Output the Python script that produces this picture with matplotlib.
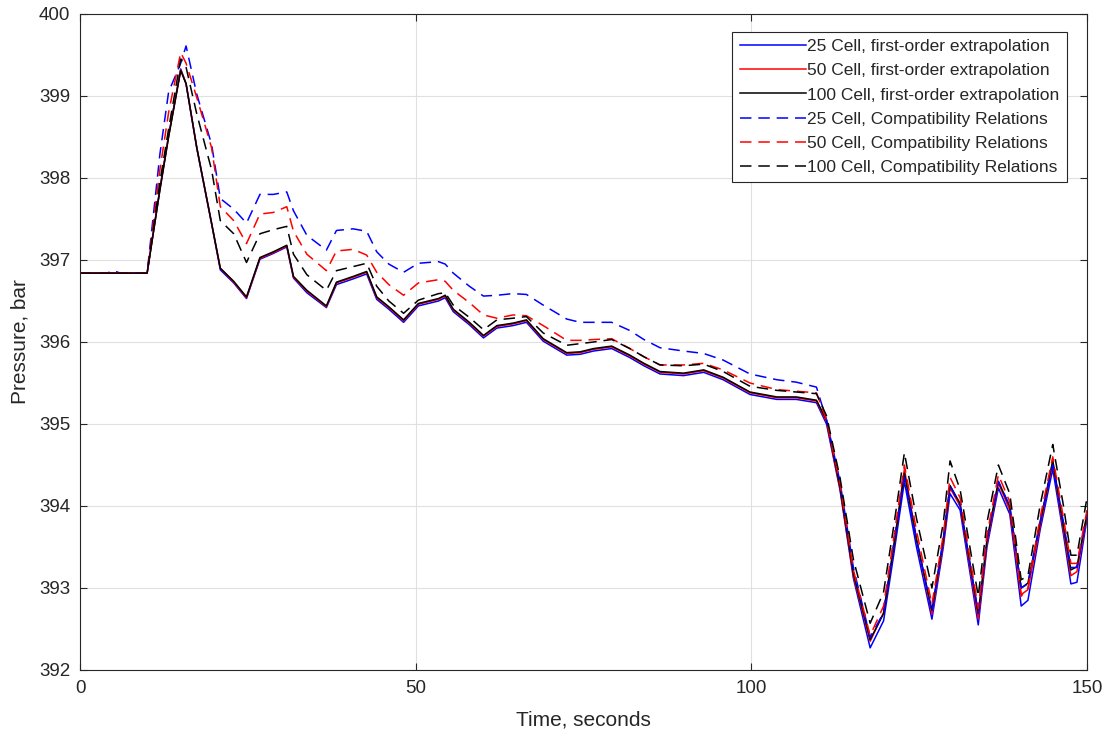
import matplotlib
matplotlib.use("Agg")
import matplotlib.pyplot as plt

plt.rcParams['font.family'] = ['Liberation Sans', 'DejaVu Sans']

t = [0, 4, 5, 6, 10, 11.9, 13.2, 15, 15.8, 17.4, 19.6, 20.9, 22.9, 24.8, 26.8, 28.8, 30.8, 31.8,
     33.8, 36.7, 38.2, 40.7, 42.7, 44.2, 46, 48.2, 50.4, 53.4, 54.4, 55.6, 58, 60.1, 62.1, 64.5,
     66.5, 69, 72.5, 74.5, 76.5, 79.2, 81.9, 84, 86.4, 89.9, 92.9, 95.8, 99.8, 103.8, 106.7,
     109.7, 111.2, 113.2, 115.2, 117.7, 119.7, 121.2, 122.8, 124.6, 126.9, 128.6, 129.6, 131.1,
     133.8, 135.1, 136.8, 138.5, 140.2, 141.2, 143, 144.9, 146.5, 147.6, 148.5, 150]

blue_first = [396.84, 396.84, 396.84, 396.84, 396.84, 397.87, 398.52, 399.33, 399.15, 398.36, 397.44,
              396.88, 396.72, 396.53, 397.01, 397.08, 397.16, 396.78, 396.6, 396.42, 396.7, 396.77,
              396.83, 396.52, 396.4, 396.24, 396.44, 396.5, 396.54, 396.37, 396.21, 396.05, 396.17,
              396.2, 396.24, 396.01, 395.84, 395.85, 395.89, 395.92, 395.81, 395.71, 395.61, 395.59,
              395.63, 395.54, 395.36, 395.3, 395.3, 395.26, 395.0, 394.2, 393.12, 392.27, 392.6,
              393.4, 394.3, 393.5, 392.62, 393.5, 394.15, 393.95, 392.55, 393.5, 394.22, 393.9,
              392.78, 392.85, 393.7, 394.45, 393.65, 393.05, 393.07, 393.85]

red_first = [396.84, 396.84, 396.84, 396.84, 396.84, 397.86, 398.51, 399.32, 399.15, 398.37, 397.45,
             396.9, 396.73, 396.54, 397.02, 397.09, 397.17, 396.79, 396.62, 396.43, 396.72, 396.79,
             396.85, 396.54, 396.42, 396.26, 396.46, 396.52, 396.56, 396.39, 396.23, 396.07, 396.19,
             396.22, 396.26, 396.03, 395.86, 395.87, 395.91, 395.94, 395.83, 395.73, 395.63, 395.61,
             395.65, 395.56, 395.38, 395.32, 395.32, 395.28, 395.03, 394.22, 393.15, 392.35, 392.7,
             393.5, 394.45, 393.6, 392.68, 393.55, 394.22, 394.0, 392.62, 393.55, 394.28, 393.95,
             392.92, 392.98, 393.75, 394.55, 393.7, 393.15, 393.2, 393.88]

black_first = [396.84, 396.84, 396.84, 396.84, 396.84, 397.85, 398.5, 399.31, 399.15, 398.37, 397.45,
               396.9, 396.74, 396.55, 397.03, 397.1, 397.18, 396.8, 396.63, 396.44, 396.73, 396.8,
               396.86, 396.55, 396.43, 396.27, 396.47, 396.53, 396.57, 396.4, 396.24, 396.08, 396.2,
               396.23, 396.27, 396.04, 395.87, 395.88, 395.92, 395.95, 395.84, 395.74, 395.64, 395.62,
               395.66, 395.57, 395.39, 395.33, 395.33, 395.29, 395.05, 394.24, 393.18, 392.37, 392.69,
               393.5, 394.4, 393.59, 392.73, 393.59, 394.25, 394.03, 392.69, 393.59, 394.3, 393.99,
               393.0, 393.06, 393.79, 394.55, 393.75, 393.22, 393.26, 393.91]

blue_compat = [396.84, 396.84, 396.87, 396.84, 396.84, 398.29, 399.05, 399.4, 399.61, 399.02, 398.41,
               397.75, 397.62, 397.45, 397.8, 397.8, 397.83, 397.6, 397.3, 397.12, 397.36, 397.38,
               397.35, 397.1, 396.95, 396.85, 396.96, 396.98, 396.95, 396.84, 396.68, 396.56, 396.57,
               396.59, 396.58, 396.45, 396.28, 396.24, 396.24, 396.24, 396.14, 396.03, 395.93, 395.89,
               395.86, 395.78, 395.61, 395.54, 395.51, 395.45, 395.05, 394.3, 393.25, 392.4, 392.7,
               393.55, 394.35, 393.6, 392.7, 393.6, 394.25, 394.0, 392.7, 393.6, 394.3, 394.0,
               393.0, 393.05, 393.8, 394.5, 393.8, 393.25, 393.25, 393.9]

red_compat = [396.84, 396.84, 396.84, 396.84, 396.84, 398.1, 398.8, 399.53, 399.4, 398.98, 398.37,
              397.65, 397.48, 397.2, 397.56, 397.58, 397.65, 397.35, 397.07, 396.87, 397.11, 397.13,
              397.06, 396.85, 396.7, 396.57, 396.72, 396.76, 396.74, 396.63, 396.48, 396.33, 396.29,
              396.33, 396.32, 396.2, 396.02, 396.02, 396.03, 396.04, 395.92, 395.82, 395.72, 395.72,
              395.74, 395.66, 395.5, 395.42, 395.4, 395.38, 395.05, 394.28, 393.22, 392.42, 392.78,
              393.6, 394.5, 393.7, 392.8, 393.65, 394.35, 394.1, 392.75, 393.65, 394.38, 394.05,
              392.9, 393.0, 393.85, 394.6, 393.85, 393.3, 393.3, 393.95]

black_compat = [396.84, 396.84, 396.84, 396.84, 396.84, 397.95, 398.6, 399.45, 399.35, 398.78, 398.1,
                397.48, 397.32, 396.97, 397.32, 397.37, 397.41, 397.07, 396.82, 396.63, 396.87, 396.92,
                396.96, 396.68, 396.5, 396.35, 396.51, 396.59, 396.6, 396.45, 396.3, 396.15, 396.27,
                396.29, 396.31, 396.11, 395.96, 395.98, 396.0, 396.03, 395.92, 395.82, 395.72, 395.71,
                395.73, 395.64, 395.46, 395.41, 395.39, 395.37, 395.1, 394.35, 393.35, 392.57, 392.95,
                393.75, 394.65, 393.85, 393.0, 393.8, 394.55, 394.2, 392.9, 393.8, 394.5, 394.15,
                393.1, 393.15, 394.0, 394.75, 394.0, 393.4, 393.4, 394.1]

labels = ["25 Cell, first-order extrapolation",
          "50 Cell, first-order extrapolation",
          "100 Cell, first-order extrapolation",
          "25 Cell, Compatibility Relations",
          "50 Cell, Compatibility Relations",
          "100 Cell, Compatibility Relations"]
series = [blue_first, red_first, black_first, blue_compat, red_compat, black_compat]
colors = ["#0000ff", "#ff0000", "#000000", "#0000ff", "#ff0000", "#000000"]
styles = ["-", "-", "-", "--", "--", "--"]

fig = plt.figure(figsize=(11.07, 7.36), dpi=100)
ax = fig.add_axes([80/1107, 66/736, 1007/1107, 656/736])

for y, c, s, lab in zip(series, colors, styles, labels):
    line, = ax.plot(t, y, color=c, linestyle=s, linewidth=1.1, label=lab)
    if s == "--":
        line.set_dashes((7.5, 4.5))

ax.set_xlim(0, 150)
ax.set_ylim(392, 400)
ax.set_xticks([0, 50, 100, 150])
ax.set_yticks(range(392, 401))
ax.grid(True, color="#e0e0e0", linewidth=0.8)
ax.set_axisbelow(True)
for sp in ax.spines.values():
    sp.set_color("#262626")
    sp.set_linewidth(0.8)
ax.tick_params(direction="in", length=5, width=0.8, colors="#262626", labelsize=13.5,
               top=True, right=True, labeltop=False, labelright=False, pad=7)
ax.set_xlabel("Time, seconds", fontsize=15, color="#262626", labelpad=10)
ax.set_ylabel("Pressure, bar", fontsize=15, color="#262626", labelpad=7)

leg = ax.legend(loc="upper right", bbox_to_anchor=(0.980, 0.973), fontsize=12.5,
                handlelength=3.8, handletextpad=0.1, borderpad=0.42, labelspacing=0.52,
                fancybox=False, framealpha=1, borderaxespad=0)
leg.get_frame().set_edgecolor("#262626")
leg.get_frame().set_linewidth(0.8)
for tx in leg.get_texts():
    tx.set_color("#262626")

fig.savefig("out.png", dpi=100, facecolor="white")
